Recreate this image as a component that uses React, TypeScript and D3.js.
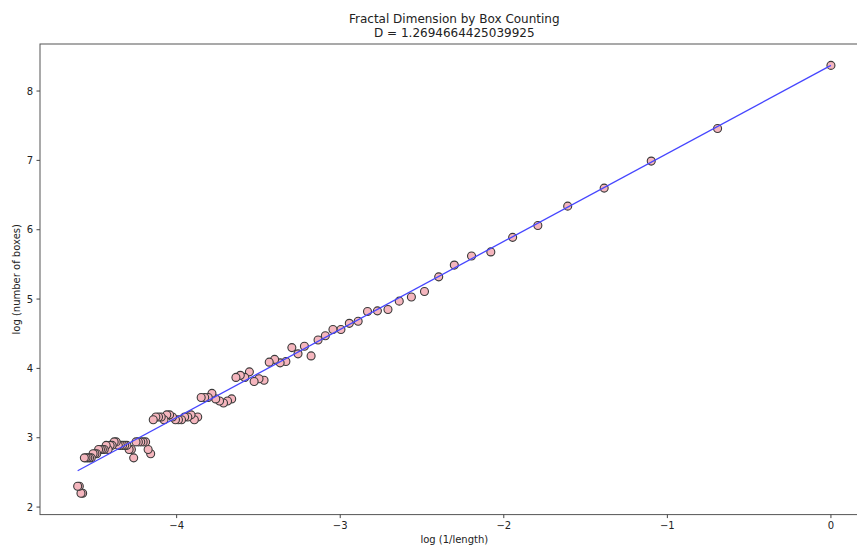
import React from 'react';
import * as d3 from 'd3';

// log(1/box size) for box sizes 1..100
const logInvLength = [
  0, -0.6931, -1.0986, -1.3863, -1.6094, -1.7918, -1.9459, -2.0794, -2.1972, -2.3026,
  -2.3979, -2.4849, -2.5649, -2.6391, -2.7081, -2.7726, -2.8332, -2.8904, -2.9444, -2.9957,
  -3.0445, -3.091, -3.1355, -3.1781, -3.2189, -3.2581, -3.2958, -3.3322, -3.3673, -3.4012,
  -3.434, -3.4657, -3.4965, -3.5264, -3.5553, -3.5835, -3.6109, -3.6376, -3.6636, -3.6889,
  -3.7136, -3.7377, -3.7612, -3.7842, -3.8067, -3.8286, -3.8501, -3.8712, -3.8918, -3.912,
  -3.9318, -3.9512, -3.9703, -3.989, -4.0073, -4.0254, -4.0431, -4.0604, -4.0775, -4.0943,
  -4.1109, -4.1271, -4.1431, -4.1589, -4.1744, -4.1897, -4.2047, -4.2195, -4.2341, -4.2485,
  -4.2627, -4.2767, -4.2905, -4.3041, -4.3175, -4.3307, -4.3438, -4.3567, -4.3694, -4.382,
  -4.3944, -4.4067, -4.4188, -4.4308, -4.4427, -4.4543, -4.4659, -4.4773, -4.4886, -4.4998,
  -4.5109, -4.5218, -4.5326, -4.5433, -4.5539, -4.5643, -4.5747, -4.585, -4.5951, -4.6052,
];

// log(number of boxes)
const logBoxCount = [
  8.37, 7.46, 6.99, 6.6, 6.34, 6.06, 5.89, 5.68, 5.62, 5.49,
  5.32, 5.11, 5.03, 4.97, 4.85, 4.83, 4.82, 4.68, 4.65, 4.56,
  4.56, 4.47, 4.41, 4.18, 4.32, 4.21, 4.3, 4.1, 4.08, 4.13,
  4.09, 3.83, 3.85, 3.81, 3.95, 3.87, 3.9, 3.87, 3.56, 3.53,
  3.5, 3.53, 3.56, 3.64, 3.58, 3.58, 3.58, 3.3, 3.26, 3.33,
  3.3, 3.3, 3.26, 3.26, 3.26, 3.3, 3.33, 3.33, 3.26, 3.3,
  3.3, 3.3, 3.26, 2.77, 2.83, 2.94, 2.94, 2.94, 2.94, 2.94,
  2.71, 2.83, 2.83, 2.89, 2.89, 2.89, 2.89, 2.89, 2.94, 2.94,
  2.89, 2.89, 2.83, 2.89, 2.83, 2.83, 2.83, 2.83, 2.77, 2.77,
  2.77, 2.71, 2.71, 2.71, 2.71, 2.71, 2.2, 2.2, 2.3, 2.3,
];

const fitSlope = 1.2694664425039925;
const fitIntercept = 8.37;

const xTicks = [-4, -3, -2, -1, 0];
const yTicks = [2, 3, 4, 5, 6, 7, 8];

const title = 'Fractal Dimension by Box Counting';
const subtitle = 'D = ' + String(fitSlope);
const xLabel = 'log (1/length)';
const yLabel = 'log (number of boxes)';

const W = 857;
const H = 547;
const font = 'DejaVu Sans, sans-serif';

// matplotlib style 5% margins
const padded = (vals: number[]) => {
  const [lo, hi] = d3.extent(vals) as [number, number];
  const m = (hi - lo) * 0.05;
  return [lo - m, hi + m];
};

const App = () => {
  const left = 40, right = 868.6, top = 44, bottom = 514.6;

  const x = d3.scaleLinear().domain(padded(logInvLength)).range([left, right]);
  const y = d3.scaleLinear().domain(padded(logBoxCount)).range([bottom, top]);

  const xMin = d3.min(logInvLength) as number;
  const xMax = d3.max(logInvLength) as number;
  const fitLine = d3.line<number>()
    .x(d => x(d))
    .y(d => y(fitSlope * d + fitIntercept));

  const fmt = (v: number) => (v < 0 ? '\u2212' + Math.abs(v) : String(v));
  const midX = (left + right) / 2;

  return (
    <svg width={W} height={H} style={{ position: 'absolute', top: 0, left: 0, background: '#fff' }}>
      <text x={midX} y={23} textAnchor="middle" fontFamily={font} fontSize={12} fill="#222">{title}</text>
      <text x={midX} y={37} textAnchor="middle" fontFamily={font} fontSize={12} fill="#222">{subtitle}</text>

      {logInvLength.map((d, i) => (
        <circle key={i} cx={x(d)} cy={y(logBoxCount[i])} r={4}
          fill="#f5b6be" stroke="#3a3a3a" strokeWidth={1.1} />
      ))}

      <path d={fitLine([xMin, xMax]) || ''} fill="none" stroke="#4646ff" strokeWidth={1.3} />

      {/* spines */}
      <rect x={left} y={top} width={right - left} height={bottom - top} fill="none" stroke="#555" strokeWidth={1} />

      {xTicks.map(t => (
        <g key={t} transform={`translate(${x(t)},${bottom})`}>
          <line y1={0} y2={3.5} stroke="#444" />
          <text y={14} textAnchor="middle" fontFamily={font} fontSize={10} fill="#222">{fmt(t)}</text>
        </g>
      ))}
      {yTicks.map(t => (
        <g key={t} transform={`translate(${left},${y(t)})`}>
          <line x1={0} x2={-3.5} stroke="#444" />
          <text x={-7} dy="0.35em" textAnchor="end" fontFamily={font} fontSize={10} fill="#222">{t}</text>
        </g>
      ))}

      <text x={midX} y={543} textAnchor="middle" fontFamily={font} fontSize={10} fill="#222">{xLabel}</text>
      <text transform={`translate(20,${(top + bottom) / 2}) rotate(-90)`} textAnchor="middle"
        fontFamily={font} fontSize={10} fill="#222">{yLabel}</text>
    </svg>
  );
};

export default App;
